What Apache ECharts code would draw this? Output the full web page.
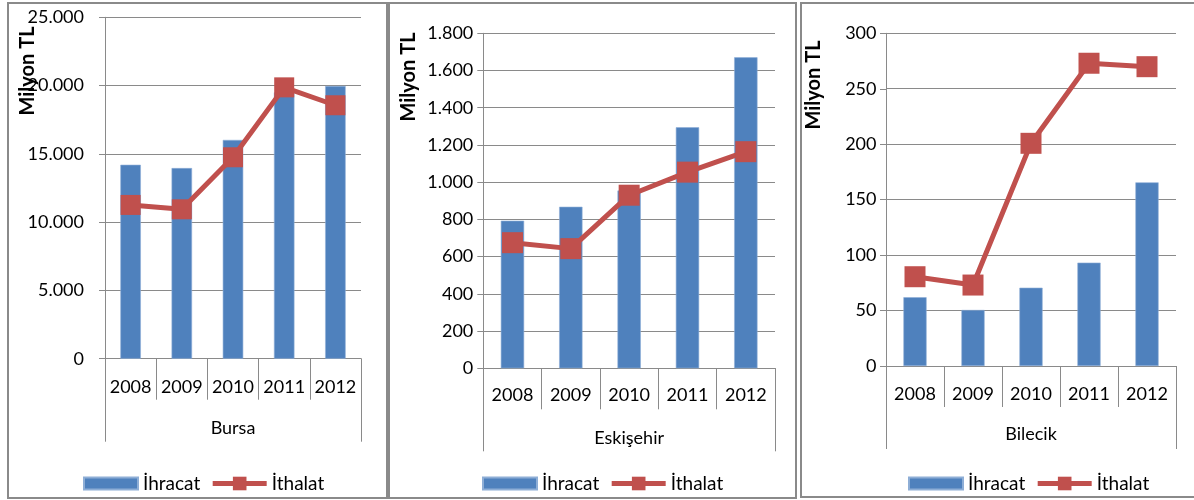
<!DOCTYPE html>
<html>
<head>
<meta charset="utf-8">
<script src="https://cdn.jsdelivr.net/npm/echarts@6/dist/echarts.min.js"></script>
<style>
html,body{margin:0;padding:0;background:#fff;}
#chart{width:1194px;height:500px;}
</style>
</head>
<body>
<div id="chart"></div>
<script>
const years = ['2008', '2009', '2010', '2011', '2012'];
const cities = ['Bursa', 'Eskişehir', 'Bilecik'];
const seriesNames = ['İhracat', 'İthalat'];
const bursaIhracat = [14200, 13960, 16020, 19500, 19970];
const bursaIthalat = [11260, 10940, 14750, 19870, 18560];
const eskisehirIhracat = [793, 868, 955, 1295, 1671];
const eskisehirIthalat = [675, 643, 930, 1054, 1164];
const bilecikIhracat = [62, 50.5, 70.6, 93.2, 165.6];
const bilecikIthalat = [80.5, 73, 200.8, 273, 269.9];
const yMax = [25000, 1800, 300];
const yInterval = [5000, 200, 50];
const yTitle = 'Milyon TL';

const FONT = 'Lato';
const GRAY = '#8a8a8a';
const BAR = '#4F81BD';
const LINE = '#C0504D';

const panels = [
  {grid: {left: 105, top: 17.3, width: 256, height: 341.4}, ihr: bursaIhracat, ith: bursaIthalat,
   labMargin: 21, yearMargin: 19, cityMargin: 60, sym: 20, legendLeft: 78,
   title: {x: 27.5, y: 71}, border: [8, 3, 379, 495]},
  {grid: {left: 483.3, top: 33.3, width: 291.7, height: 335}, ihr: eskisehirIhracat, ith: eskisehirIthalat,
   labMargin: 10, yearMargin: 18, cityMargin: 61, sym: 21, legendLeft: 477,
   title: {x: 408.3, y: 77}, border: [389, 3, 407, 495]},
  {grid: {left: 886, top: 33.3, width: 290, height: 332.7}, ihr: bilecikIhracat, ith: bilecikIthalat,
   labMargin: 9.5, yearMargin: 19, cityMargin: 59, sym: 21, legendLeft: 903,
   title: {x: 814, y: 85}, border: [801, 3, 400, 494]}
];

function fmt(v) {
  return String(v).replace(/\B(?=(\d{3})+(?!\d))/g, '.');
}

const option = {
  animation: false,
  textStyle: {fontFamily: FONT},
  grid: [], xAxis: [], yAxis: [], series: [], legend: [], graphic: []
};

panels.forEach((p, i) => {
  option.grid.push(Object.assign({containLabel: false}, p.grid));
  // year axis
  option.xAxis.push({
    type: 'category', gridIndex: i, data: years, position: 'bottom',
    axisLine: {show: true, lineStyle: {color: GRAY, width: 1}},
    axisTick: {show: true, length: 41, alignWithLabel: false, lineStyle: {color: GRAY, width: 1}},
    axisLabel: {margin: p.yearMargin, color: '#000', fontSize: 18, fontFamily: FONT, interval: 0},
    splitLine: {show: false}
  });
  // city axis (second level)
  option.xAxis.push({
    type: 'category', gridIndex: i, data: [cities[i]], position: 'bottom',
    axisLine: {show: false},
    axisTick: {show: true, length: 83, alignWithLabel: false, lineStyle: {color: GRAY, width: 1}},
    axisLabel: {margin: p.cityMargin, color: '#000', fontSize: 18, fontFamily: FONT},
    splitLine: {show: false}
  });
  option.yAxis.push({
    type: 'value', gridIndex: i, min: 0, max: yMax[i], interval: yInterval[i],
    axisLine: {show: true, lineStyle: {color: GRAY, width: 1}},
    axisTick: {show: true, length: 6, lineStyle: {color: GRAY, width: 1}},
    axisLabel: {margin: p.labMargin, color: '#000', fontSize: 18, fontFamily: FONT, formatter: fmt},
    splitLine: {show: true, lineStyle: {color: GRAY, width: 1}}
  });
  option.series.push({
    name: seriesNames[0], type: 'bar', xAxisIndex: i * 2, yAxisIndex: i,
    data: p.ihr, barWidth: '40%',
    itemStyle: {color: BAR, borderColor: '#8eaed6', borderWidth: 0.6}
  });
  option.series.push({
    name: seriesNames[1], type: 'line', xAxisIndex: i * 2, yAxisIndex: i,
    data: p.ith, symbol: 'rect', symbolSize: p.sym, showSymbol: true,
    lineStyle: {color: LINE, width: 5},
    itemStyle: {color: LINE}
  });
  option.legend.push({
    left: p.legendLeft, top: 469, orient: 'horizontal',
    itemWidth: 54, itemHeight: 17, itemGap: 10,
    textStyle: {color: '#000', fontSize: 19, fontFamily: FONT},
    data: [
      {name: seriesNames[0], icon: 'path://M0,0H50V11H0Z'},
      {name: seriesNames[1], lineStyle: {width: 5, color: LINE}}
    ]
  });
  option.graphic.push({
    type: 'rect', silent: true, z: 0,
    shape: {x: p.border[0], y: p.border[1], width: p.border[2], height: p.border[3]},
    style: {fill: 'none', stroke: GRAY, lineWidth: 2}
  });
  option.graphic.push({
    type: 'text', silent: true, z: 100,
    x: p.title.x, y: p.title.y, rotation: Math.PI / 2,
    style: {text: yTitle, fill: '#000', font: 'bold 20px ' + FONT, align: 'center', verticalAlign: 'middle'}
  });
});

const chart = echarts.init(document.getElementById('chart'), null, {renderer: 'canvas'});
chart.setOption(option);
</script>
</body>
</html>
